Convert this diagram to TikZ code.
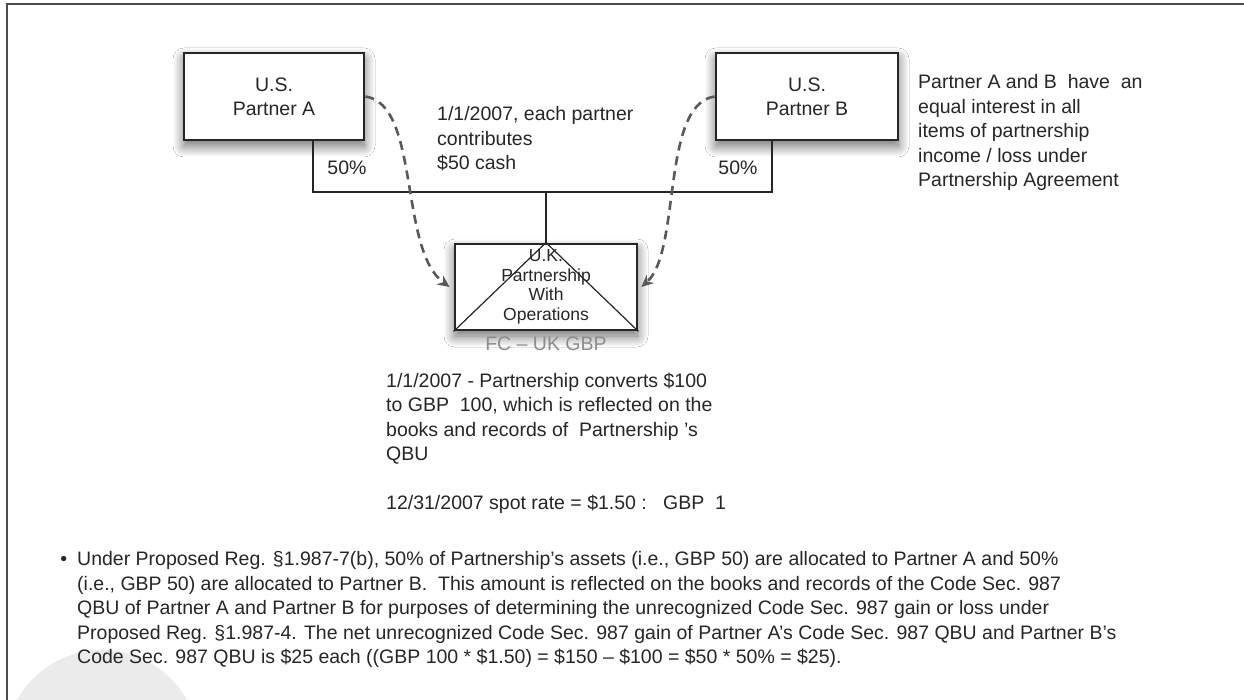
\documentclass[tikz,border=0pt]{standalone}
\usepackage{fontspec}
\setmainfont{Liberation Sans}
\usepackage{tikz}
\usetikzlibrary{shapes,arrows,positioning,calc,shadows.blur,arrows.meta}

\tikzset{
  partybox/.style={draw=black!85, line width=2.8pt, fill=white, minimum width=#1, minimum height=87pt,
    align=center, text=black!85, font=\fontsize{19.5}{24}\selectfont,
    blur shadow={shadow xshift=0pt, shadow yshift=-6pt, shadow blur radius=11pt, shadow blur steps=16, shadow opacity=60}},
  ownline/.style={draw=black!85, line width=2.8pt},
  flowarrow/.style={draw=black!65, line width=2.6pt, dash pattern=on 9pt off 6pt, -{Stealth[length=12pt,width=11pt]}},
  note/.style={align=left, text=black!85, font=\fontsize{19.5}{24.5}\selectfont, inner sep=0pt}
}

\begin{document}
\begin{tikzpicture}[x=1pt, y=-1pt]
    \useasboundingbox (0,0) rectangle (1244,700);
    \fill[white] (0,0) rectangle (1244,700);
    % faint round mark in the corner
    \begin{scope}
      \clip (0,0) rectangle (1244,700);
      \fill[black!8] (102,747) circle[radius=97pt];
    \end{scope}
    \draw[black!70, line width=1.6pt] (7,700) -- (7,4) -- (1244,4); % frame

    % Partners
    \node[partybox=180pt] (A) at (274,96.5) {U.S.\\Partner A};
    \node[partybox=182pt] (B) at (807,96.5) {U.S.\\Partner B};

    % Partnership
    \node[partybox=182pt, minimum height=86pt] (UK) at (546,287) {};
    \draw[black!85, line width=1.2pt] (UK.south west) -- (UK.north) -- (UK.south east);
    \node[align=center, text=black!85, font=\fontsize{17.5}{19.5}\selectfont] (UKtext) at (UK.center)
        {U.K.\\Partnership\\With\\Operations};
    \node[text=black!45, font=\fontsize{19.5}{24}\selectfont, below=2pt of UK] (fc) {FC -- UK GBP};

    % ownership lines
    \coordinate (jA) at (313,192);
    \coordinate (jB) at (772,192);
    \draw[ownline] (A.south -| jA) -- (jA) -- (jB) -- (B.south -| jB);
    \draw[ownline] (UK.north) -- (UK.north |- jA);
    \node[text=black!85, font=\fontsize{19.5}{24}\selectfont] (pctA) at (347,168) {50\%};
    \node[text=black!85, font=\fontsize{19.5}{24}\selectfont] (pctB) at (738,168) {50\%};

    % contributions
    \draw[flowarrow] (A.east) .. controls +(55,8) and +(-51,-37) .. ([xshift=-4pt]UK.west);
    \draw[flowarrow] (B.west) .. controls +(-54,8) and +(40,-36) .. ([xshift=3pt]UK.east);

    % notes
    \node[note, anchor=west] (contrib) at (437,139) {1/1/2007, each partner\\contributes\\\$50 cash};
    \node[note, anchor=west] (equal) at (918,132.5) {Partner A and B\ \ have\ \ an\\equal interest in all\\items of partnership\\income / loss under\\Partnership Agreement};
    \node[note, anchor=west] (convert) at (386,418.5) {1/1/2007 - Partnership converts \$100\\to GBP\ \ 100, which is reflected on the\\books and records of\ \ Partnership ’s\\QBU};
    \node[note, anchor=west] (spot) at (386,504) {12/31/2007 spot rate = \$1.50 :\ \ \ GBP\ \ 1};
    \node[note, anchor=west] (alloc) at (77,609.5) {\llap{\textbullet\hspace{10pt}}Under Proposed Reg. §1.987-7(b), 50\% of Partnership’s assets (i.e., GBP 50) are allocated to Partner A and 50\%\\
      (i.e., GBP 50) are allocated to Partner B.\ \ This amount is reflected on the books and records of the Code Sec. 987\\
      QBU of Partner A and Partner B for purposes of determining the unrecognized Code Sec. 987 gain or loss under\\
      Proposed Reg. §1.987-4. The net unrecognized Code Sec. 987 gain of Partner A’s Code Sec. 987 QBU and Partner B’s\\
      Code Sec. 987 QBU is \$25 each ((GBP 100 * \$1.50) = \$150 -- \$100 = \$50 * 50\% = \$25).};
\end{tikzpicture}
\end{document}
